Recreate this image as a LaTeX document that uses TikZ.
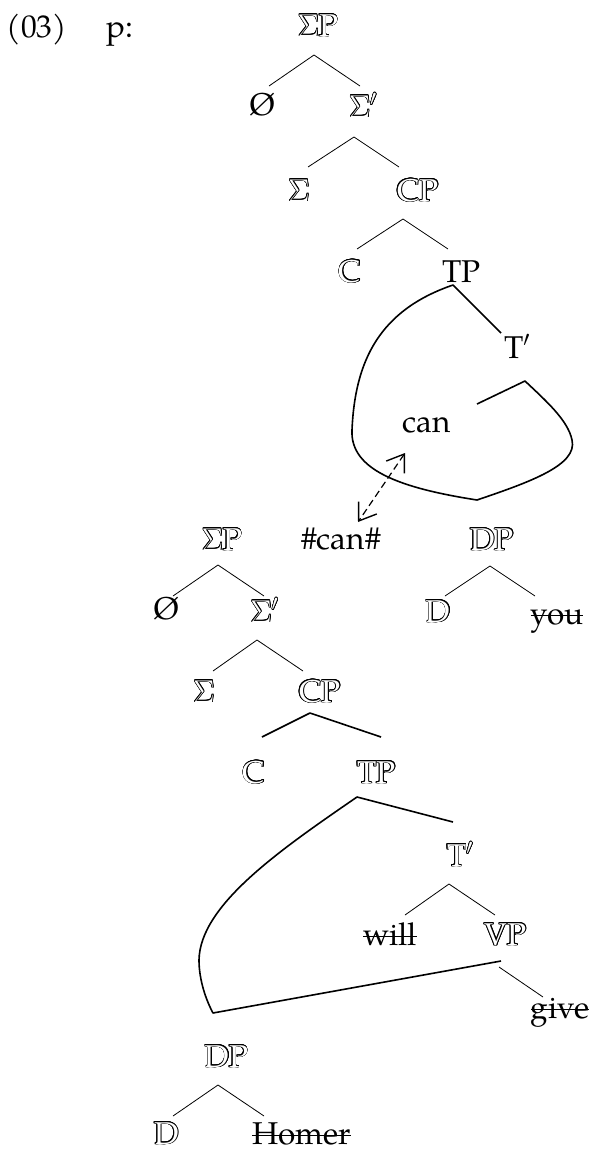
\RequirePackage{fix-cm}
\documentclass[tikz,border=0pt]{standalone}
\usepackage{fontspec}
\setmainfont{TeX Gyre Pagella}
\usetikzlibrary{calc,arrows.meta}
\newbox\olb
\newcommand{\oo}[2]{\rlap{\kern#1\raise#2\hbox{\textcolor{black}{\copy\olb}}}}
\newcommand{\olt}[1]{\setbox\olb=\hbox{#1}%
  \oo{0.7pt}{0pt}\oo{-0.7pt}{0pt}\oo{0pt}{0.7pt}\oo{0pt}{-0.7pt}%
  \oo{0.5pt}{0.5pt}\oo{-0.5pt}{0.5pt}\oo{0.5pt}{-0.5pt}\oo{-0.5pt}{-0.5pt}%
  \oo{0.65pt}{0.27pt}\oo{-0.65pt}{0.27pt}\oo{0.65pt}{-0.27pt}\oo{-0.65pt}{-0.27pt}%
  \oo{0.27pt}{0.65pt}\oo{-0.27pt}{0.65pt}\oo{0.27pt}{-0.65pt}\oo{-0.27pt}{-0.65pt}%
  \copy\olb}
\newbox\stb
\newcommand{\strk}[1]{\setbox\stb=\hbox{#1}\rlap{\copy\stb}\rule[0.24em]{\wd\stb}{1.5pt}}
\begin{document}
\begin{tikzpicture}[x=1pt,y=-1pt,
  lbl/.style={inner sep=0pt, anchor=base, font=\fontsize{31.5}{36}\selectfont},
  ol/.style={lbl, text=white},
  thinln/.style={line width=0.8pt},
  thickln/.style={line width=1.6pt, line join=round},
  mv/.style={line width=1.2pt, dash pattern=on 7pt off 4pt,
    >={Straight Barb[length=16pt,width=22pt,line width=1.4pt]}, <->}]
\useasboundingbox (0,0) rectangle (594,1149);
% labels
\node[lbl] (n03) at (37,37) {(03)};
\node[lbl] (np) at (119.5,37) {p:};
% upper tree
\node[ol] (SP1) at (318,36) {\olt{$\Sigma$P}};
\node[lbl] (Null1) at (263,115) {Ø};
\node[ol] (Sb1) at (363,117) {\olt{$\Sigma'$}};
\node[ol] (Sg1) at (299,201) {\olt{$\Sigma$}};
\node[ol] (CP1) at (418,201) {\olt{CP}};
\node[ol] (C1) at (350,282) {\olt{C}};
\node[lbl] (TP1) at (461.5,282) {TP};
\node[lbl] (Tb1) at (517,358) {T$'$};
\node[lbl] (can) at (427,432) {can};
\node[lbl] (hcan) at (341,549) {\#can\#};
% lower trees
\node[ol] (SP2) at (222,550) {\olt{$\Sigma$P}};
\node[ol] (DP1) at (492,550) {\olt{DP}};
\node[lbl] (Null2) at (167,619) {Ø};
\node[ol] (Sb2) at (264.5,622) {\olt{$\Sigma'$}};
\node[ol] (D1) at (438,622) {\olt{D}};
\node[lbl] (you) at (557,624) {\strk{you}};
\node[ol] (Sg2) at (204,702) {\olt{$\Sigma$}};
\node[ol] (CP2) at (320,702) {\olt{CP}};
\node[ol] (C2) at (254,783) {\olt{C}};
\node[ol] (TP2) at (376.5,783) {\olt{TP}};
\node[ol] (Tb2) at (460,866) {\olt{T$'$}};
\node[lbl] (will) at (390,945) {\strk{will}};
\node[ol] (VP) at (505.5,945) {\olt{VP}};
\node[lbl] (give) at (560,1018) {\strk{give}};
\node[ol] (DP2) at (226.5,1067) {\olt{DP}};
\node[ol] (D2) at (166.5,1144) {\olt{D}};
\node[lbl] (Homer) at (301.5,1144) {\strk{Homer}};
% upper branches
\draw[thinln] ($(Null1.base)+(6,-29)$) -- ($(SP1.base)+(-4,19)$) -- ($(Sb1.base)+(-3,-31)$);
\draw[thinln] ($(Sg1.base)+(9,-34)$) -- ($(Sb1.base)+(-9,20)$) -- ($(CP1.base)+(-19,-34)$);
\draw[thinln] ($(C1.base)+(7,-33)$) -- ($(CP1.base)+(-15,18)$) -- ($(TP1.base)+(-13.5,-33)$);
\draw[thickln] ($(Tb1.base)+(-16,-25)$) -- ($(TP1.base)+(-8.5,3)$)
  .. controls (380,310) and (355,360) .. (352,430)
  .. controls (350,470) and (400,488) .. (477,500)
  .. controls (530,482) and (578,465) .. (572,440)
  .. controls (568,420) and (545,400) .. (525,381)
  -- ($(can.base)+(50,-28)$);
% movement arrow
\draw[mv] ($(can.base)+(-22,21)$) -- ($(hcan.base)+(17,-27)$);
% lower branches
\draw[thinln] ($(Null2.base)+(6,-23)$) -- ($(SP2.base)+(-4,15)$) -- ($(Sb2.base)+(-0.5,-26)$);
\draw[thinln] ($(D1.base)+(7,-26)$) -- ($(DP1.base)+(-2,16)$) -- ($(you.base)+(-22,-28)$);
\draw[thinln] ($(Sg2.base)+(9,-31)$) -- ($(Sb2.base)+(-7.5,18)$) -- ($(CP2.base)+(-17,-31)$);
\draw[thickln] ($(C2.base)+(8,-46)$) -- ($(CP2.base)+(-10,11)$) -- ($(TP2.base)+(4.5,-46)$);
\draw[thickln] ($(Tb2.base)+(-7,-44)$) -- ($(TP2.base)+(-19.5,14)$)
  .. controls (280,850) and (200,905) .. (199,960)
  .. controls (199,980) and (206,1000) .. (213,1013)
  -- ($(VP.base)+(-4.5,16)$);
\draw[thinln] ($(will.base)+(15,-30)$) -- ($(Tb2.base)+(-11,18)$) -- ($(VP.base)+(-10.5,-30)$);
\draw[thinln] ($(VP.base)+(-6.5,22)$) -- ($(give.base)+(-17,-21)$);
\draw[thinln] ($(D2.base)+(6.5,-28)$) -- ($(DP2.base)+(-8.5,18)$) -- ($(Homer.base)+(-37.5,-28)$);
\end{tikzpicture}
\end{document}
